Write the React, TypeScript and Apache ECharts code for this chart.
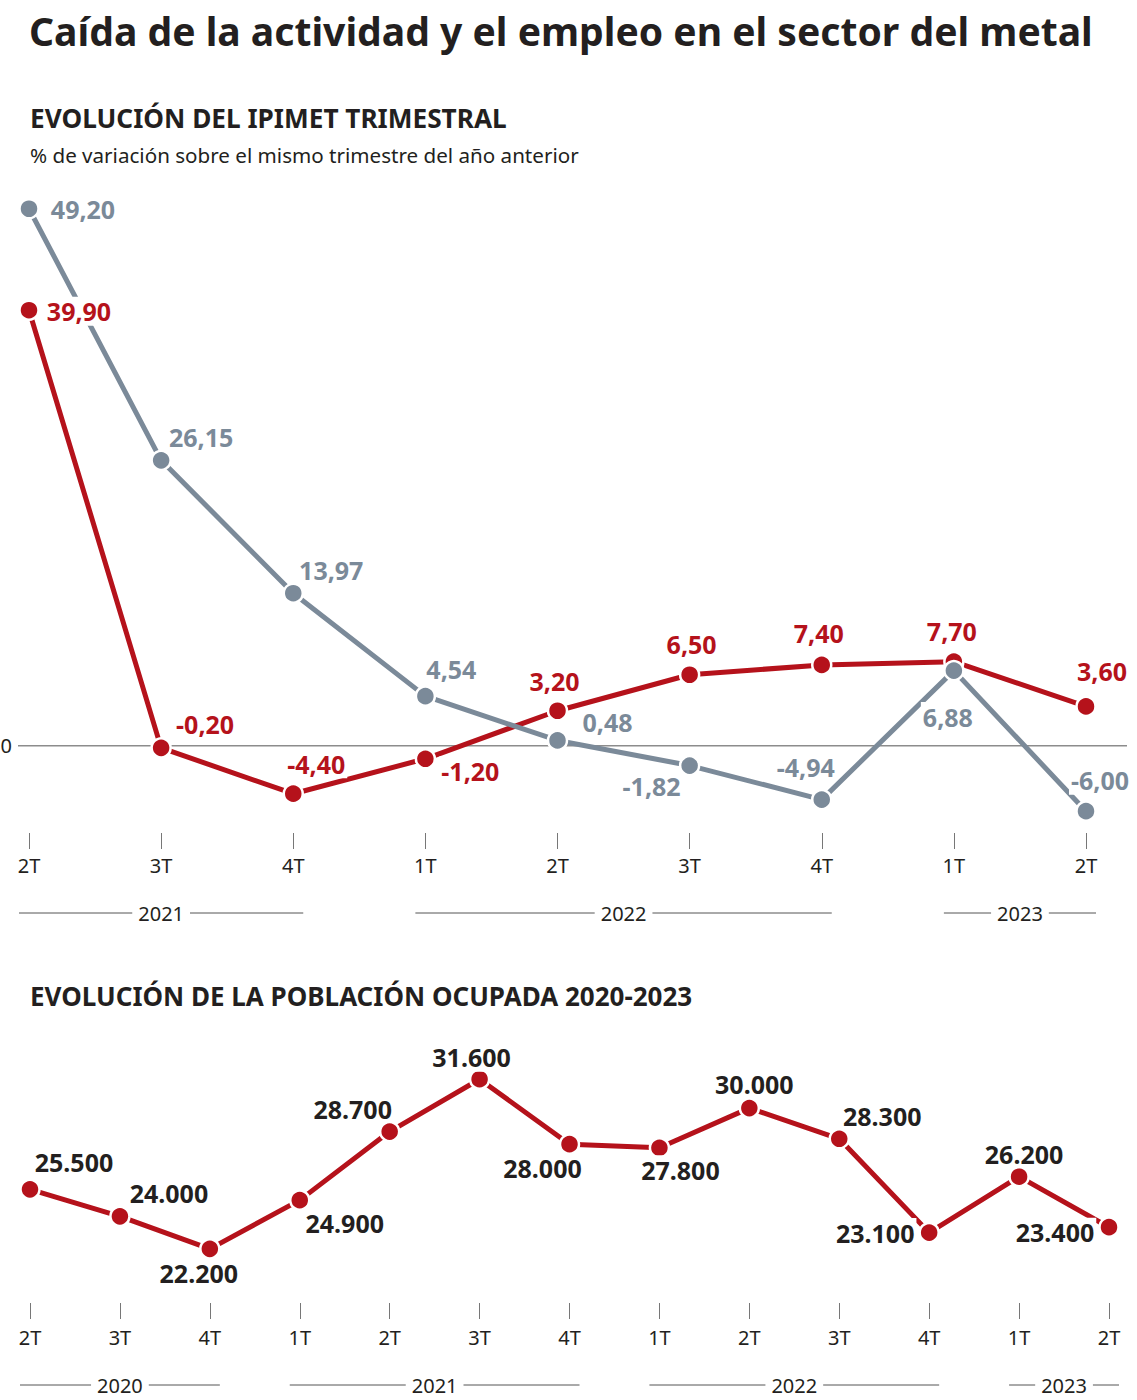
import React, { useEffect, useRef } from "react";
import * as echarts from "echarts";

const TITLE = "Caída de la actividad y el empleo en el sector del metal";
const SECTION1_TITLE = "EVOLUCIÓN DEL IPIMET TRIMESTRAL";
const SECTION1_SUBTITLE = "% de variación sobre el mismo trimestre del año anterior";
const SECTION2_TITLE = "EVOLUCIÓN DE LA POBLACIÓN OCUPADA 2020-2023";

const ipimetQuarters = ["2T", "3T", "4T", "1T", "2T", "3T", "4T", "1T", "2T"];
const ipimetYears = [
  { label: "2021", from: 0, to: 2 },
  { label: "2022", from: 3, to: 6 },
  { label: "2023", from: 7, to: 8 },
];
const grayValues = [49.2, 26.15, 13.97, 4.54, 0.48, -1.82, -4.94, 6.88, -6.0];
const redValues = [39.9, -0.2, -4.4, -1.2, 3.2, 6.5, 7.4, 7.7, 3.6];

const empleoQuarters = ["2T", "3T", "4T", "1T", "2T", "3T", "4T", "1T", "2T", "3T", "4T", "1T", "2T"];
const empleoYears = [
  { label: "2020", from: 0, to: 2 },
  { label: "2021", from: 3, to: 6 },
  { label: "2022", from: 7, to: 10 },
  { label: "2023", from: 11, to: 12 },
];
const empleoValues = [25500, 24000, 22200, 24900, 28700, 31600, 28000, 27800, 30000, 28300, 23100, 26200, 23400];

// label placement (layout only): offset of label centre from point centre
const grayLabelOffsets = [[54, 0], [40, -23], [38, -23], [26, -27], [50, -18], [-38, 20], [-16, -33], [-6, 46], [14, -31]];
const redLabelOffsets = [[50, 1], [44, -24], [23, -30], [45, 12], [-3, -30], [2, -31], [-3, -32], [-2, -31], [16, -35]];
const empleoLabelOffsets = [[44, -27], [49, -23], [-11, 24], [45, 23], [-37, -23], [-8, -22], [-27, 24], [21, 22], [5, -24], [43, -23], [-54, 0], [5, -23], [-54, 5]];

const RED = "#b5121b";
const GRAY = "#7b8a99";
const DARK = "#231f20";
const FONT = '"Noto Sans", "Open Sans", sans-serif';
const TITLE_FONT = '"Liberation Sans Narrow", "Noto Sans", sans-serif';

const fmtDec = (v: number) => v.toFixed(2).replace(".", ",");
const fmtThousands = (v: number) => String(Math.round(v)).replace(/\B(?=(\d{3})+(?!\d))/g, ".");

function measure(text: string, font: string) {
  const ctx = document.createElement("canvas").getContext("2d")!;
  ctx.font = font;
  return ctx.measureText(text).width;
}

// heading whose font size is chosen so that its width matches the reference
function fittedText(text: string, x: number, y: number, size: number, weight: string, family: string, targetWidth: number, color: string) {
  const w = measure(text, `${weight} ${size}px ${family}`);
  const fs = w > 0 ? Math.min(size * 1.15, Math.max(size * 0.85, (size * targetWidth) / w)) : size;
  return {
    type: "text",
    x,
    y,
    style: {
      text,
      fill: color,
      fontSize: Math.round(fs * 10) / 10,
      fontWeight: weight,
      fontFamily: family,
      textAlign: "left",
      textVerticalAlign: "middle",
    },
  };
}

export default function App() {
  const ref = useRef<HTMLDivElement>(null);

  useEffect(() => {
    document.body.style.margin = "0";
    const el = ref.current!;
    const chart = echarts.init(el, null, { renderer: "svg" });

    const labelBase = {
      show: true,
      position: "inside",
      align: "center",
      verticalAlign: "middle",
      fontSize: 25,
      fontWeight: "bold",
      fontFamily: FONT,
      backgroundColor: "#fff",
      padding: [2, 2],
    };

    const option: any = {
      animation: false,
      backgroundColor: "#fff",
      grid: [
        { left: 29, right: 51, top: 200, height: 633, outerBoundsMode: "none", containLabel: false },
        { left: 30, right: 28, top: 1072, height: 231, outerBoundsMode: "none", containLabel: false },
      ],
      xAxis: [0, 1].map((gi) => ({
        type: "category",
        gridIndex: gi,
        data: gi === 0 ? ipimetQuarters : empleoQuarters,
        boundaryGap: false,
        axisLine: { show: false, onZero: false },
        axisTick: { show: true, length: 16, interval: 0, lineStyle: { color: "#777", width: 1 } },
        axisLabel: { interval: 0, margin: gi === 0 ? 22 : 24, color: DARK, fontSize: 20, fontFamily: FONT },
        splitLine: { show: false },
      })),
      yAxis: [
        {
          type: "value",
          gridIndex: 0,
          min: -8,
          max: 50,
          interval: 2,
          axisLine: { show: false },
          axisTick: { show: false },
          splitLine: { show: false },
          axisLabel: {
            margin: 17,
            color: DARK,
            fontSize: 20,
            fontFamily: FONT,
            formatter: (v: number) => (v === 0 ? "0" : ""),
          },
        },
        {
          type: "value",
          gridIndex: 1,
          min: 19200,
          max: 32000,
          show: false,
          splitLine: { show: false },
        },
      ],
      series: [
        {
          type: "line",
          xAxisIndex: 0,
          yAxisIndex: 0,
          data: redValues,
          lineStyle: { color: RED, width: 5 },
          itemStyle: { color: RED, borderColor: "#fff", borderWidth: 2.5 },
          symbol: "circle",
          symbolSize: 19,
          showAllSymbol: true,
          label: { show: false },
          z: 3,
        },
        {
          type: "line",
          xAxisIndex: 0,
          yAxisIndex: 0,
          data: grayValues.map((v, i) => ({ value: v, label: { offset: grayLabelOffsets[i] } })),
          lineStyle: { color: GRAY, width: 5 },
          itemStyle: { color: GRAY, borderColor: "#fff", borderWidth: 2.5 },
          symbol: "circle",
          symbolSize: 19,
          showAllSymbol: true,
          label: { ...labelBase, color: GRAY, formatter: (p: any) => fmtDec(p.value) },
          z: 4,
        },
        {
          // labels of the red series, drawn above the gray line
          type: "line",
          xAxisIndex: 0,
          yAxisIndex: 0,
          data: redValues.map((v, i) => ({ value: v, label: { offset: redLabelOffsets[i] } })),
          lineStyle: { width: 0, opacity: 0 },
          itemStyle: { color: "rgba(0,0,0,0)", borderWidth: 0 },
          symbol: "circle",
          symbolSize: 1,
          showAllSymbol: true,
          silent: true,
          label: { ...labelBase, color: RED, formatter: (p: any) => fmtDec(p.value) },
          z: 5,
        },
        {
          type: "line",
          xAxisIndex: 1,
          yAxisIndex: 1,
          data: empleoValues.map((v, i) => ({ value: v, label: { offset: empleoLabelOffsets[i] } })),
          lineStyle: { color: RED, width: 5 },
          itemStyle: { color: RED, borderColor: "#fff", borderWidth: 2.5 },
          symbol: "circle",
          symbolSize: 19,
          showAllSymbol: true,
          label: { ...labelBase, color: DARK, formatter: (p: any) => fmtThousands(p.value) },
          z: 3,
        },
      ],
    };

    chart.setOption(option);

    const graphics: any[] = [];
    graphics.push(fittedText(TITLE, 29, 30, 46, "bold", TITLE_FONT, 1063, DARK));
    graphics.push(fittedText(SECTION1_TITLE, 30, 118, 25, "bold", FONT, 476, DARK));
    graphics.push(fittedText(SECTION1_SUBTITLE, 30, 155, 20, "normal", FONT, 548, DARK));
    graphics.push(fittedText(SECTION2_TITLE, 30, 996, 25, "bold", FONT, 662, DARK));

    // zero reference line
    const z0 = chart.convertToPixel({ gridIndex: 0 }, [0, 0]) as number[];
    const zLast = chart.convertToPixel({ gridIndex: 0 }, [ipimetQuarters.length - 1, 0]) as number[];
    graphics.push({
      type: "line",
      shape: { x1: z0[0] - 11, y1: z0[1], x2: zLast[0] + 41, y2: z0[1] },
      style: { stroke: "#8c8c8c", lineWidth: 1.5 },
      z: 1,
    });

    const yearRow = (gi: number, groups: { label: string; from: number; to: number }[], y: number) => {
      groups.forEach((g) => {
        const a = chart.convertToPixel({ gridIndex: gi }, [g.from, 0]) as number[];
        const b = chart.convertToPixel({ gridIndex: gi }, [g.to, 0]) as number[];
        const x1 = a[0] - 10;
        const x2 = b[0] + 10;
        graphics.push({
          type: "line",
          shape: { x1, y1: y, x2, y2: y },
          style: { stroke: "#555", lineWidth: 1 },
          z: 1,
        });
        graphics.push({
          type: "text",
          x: (x1 + x2) / 2,
          y,
          z: 2,
          style: {
            text: g.label,
            fill: DARK,
            fontSize: 20,
            fontFamily: FONT,
            textAlign: "center",
            textVerticalAlign: "middle",
            backgroundColor: "#fff",
            padding: [0, 6],
          },
        });
      });
    };
    yearRow(0, ipimetYears, 913);
    yearRow(1, empleoYears, 1385);

    chart.setOption({ graphic: graphics });

    return () => chart.dispose();
  }, []);

  return <div ref={ref} style={{ width: 1137, height: 1400 }} />;
}
